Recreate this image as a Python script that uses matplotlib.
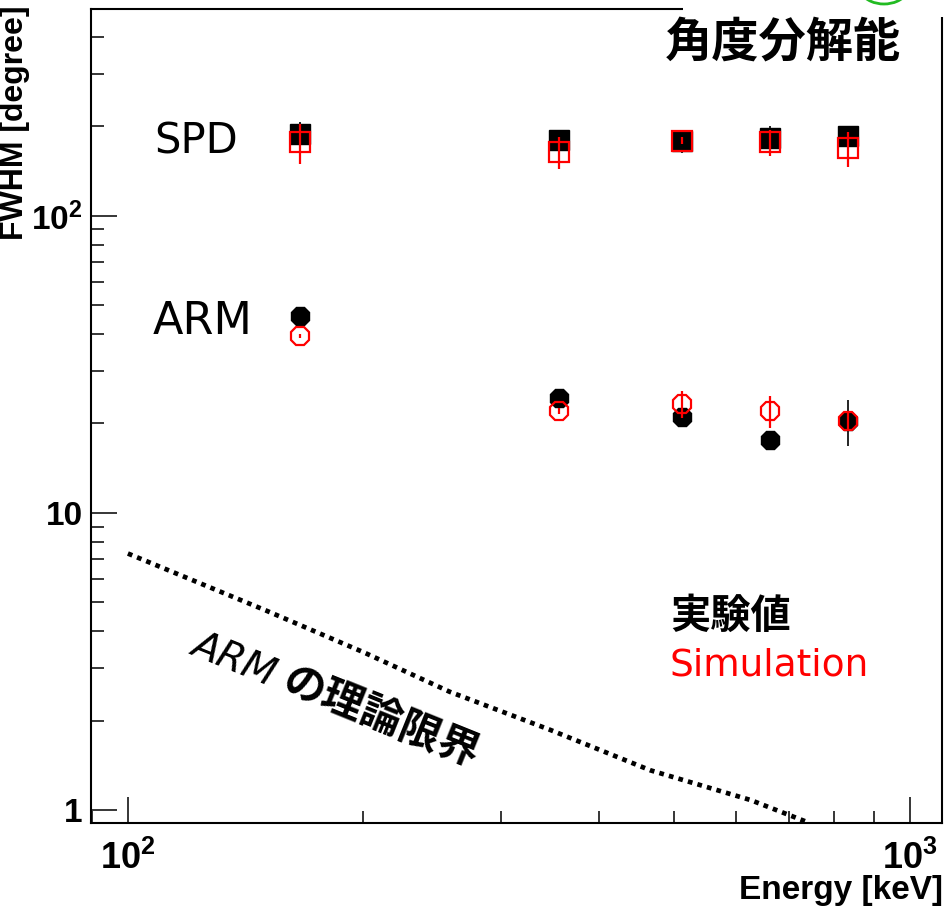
import matplotlib
matplotlib.use("Agg")
import matplotlib.pyplot as plt
from matplotlib import ticker
from matplotlib.patches import Rectangle, Arc

plt.rcParams['font.family'] = ['Liberation Sans', 'Noto Sans CJK JP', 'DejaVu Sans']
plt.rcParams['mathtext.fontset'] = 'custom'
plt.rcParams['mathtext.rm'] = 'Liberation Sans:bold'
plt.rcParams['mathtext.it'] = 'Liberation Sans:bold'
plt.rcParams['mathtext.bf'] = 'Liberation Sans:bold'

# gamma-ray line energies [keV]
energy = [166, 356, 511, 662, 835]

# SPD (squares)
spd_exp = [189, 180, 179, 183, 185]
spd_exp_err = [18, 5, 16, 17, 16]
spd_sim = [177, 164, 179, 177, 169]
spd_sim_err = [27, 20, 5, 18, 23]

# ARM (circles)
arm_exp = [46, 24.4, 21.0, 17.6, 20.4]
arm_exp_err = [1.0, 0.8, 1.0, 0.6, 3.6]
arm_sim = [39.4, 22.0, 23.3, 22.0, 20.4]
arm_sim_err = [0.5, 0.5, 2.5, 2.7, 1.5]

# theoretical ARM limit (dotted line)
lim_energy = [100, 150, 200, 258, 347, 466, 626, 740]
lim_arm = [7.3, 4.7, 3.4, 2.5, 1.86, 1.36, 1.08, 0.91]

W, H = 951, 908
fig = plt.figure(figsize=(W / 100, H / 100), dpi=100)
ax = fig.add_axes([91 / W, 1 - 823 / H, (942 - 91) / W, (823 - 9) / H])

def px(x, y):
    # pixel position (from top-left) -> figure fraction
    return x / W, 1 - y / H

# dotted theory line
ax.plot(lim_energy, lim_arm, color='black', linestyle=(0, (1, 1.1)), linewidth=3.4)

# experiment (black, filled)
ax.errorbar(energy, spd_exp, yerr=spd_exp_err, fmt='s', color='black',
            markersize=14, elinewidth=1.2, capsize=0, zorder=3)
ax.errorbar(energy, arm_exp, yerr=arm_exp_err, fmt='8', color='black',
            markersize=14, elinewidth=1.2, capsize=0, zorder=3)

# simulation (red, open)
ax.errorbar(energy, spd_sim, yerr=spd_sim_err, fmt='s', color='red',
            markerfacecolor='none', markeredgewidth=1.6, markersize=14,
            elinewidth=1.6, capsize=0, zorder=4)
ax.errorbar(energy, arm_sim, yerr=arm_sim_err, fmt='8', color='red',
            markerfacecolor='none', markeredgewidth=1.6, markersize=14,
            elinewidth=1.6, capsize=0, zorder=4)

ax.set_xscale('log')
ax.set_yscale('log')
ax.set_xlim(89.7, 1100)
ax.set_ylim(0.904, 497)

ax.set_xticks([100, 1000])
ax.set_xticklabels([r'$10^{2}$', r'$10^{3}$'])
ax.set_yticks([1, 10, 100])
ax.set_yticklabels(['1', '10', r'$10^{2}$'])
for a in (ax.xaxis, ax.yaxis):
    a.set_minor_locator(ticker.LogLocator(base=10, subs=range(2, 10), numticks=20))
    a.set_minor_formatter(ticker.NullFormatter())

ax.tick_params(which='major', direction='in', length=19, width=1.1,
               top=False, right=False)
ax.tick_params(which='minor', direction='in', length=9, width=1.1,
               top=False, right=False)
ax.tick_params(axis='x', which='major', pad=13, labelsize=26)
ax.tick_params(axis='y', which='major', pad=6, labelsize=24)
for lab in ax.get_xticklabels() + ax.get_yticklabels():
    lab.set_fontweight('bold')
for s in ax.spines.values():
    s.set_linewidth(1.5)

# axis titles (ROOT style, at the ends)
fig.text(*px(943, 890), 'Energy [keV]', ha='right', va='center',
         fontsize=24, fontweight='bold')
fig.text(*px(15, 5), 'FWHM [degree]', ha='center', va='top', rotation=90,
         fontsize=23, fontweight='bold')

# annotations
fig.text(*px(196, 142), 'SPD', ha='center', va='center', fontsize=30,
         family=['DejaVu Sans'])
fig.text(*px(203, 322), 'ARM', ha='center', va='center', fontsize=32,
         family=['DejaVu Sans'])
fig.text(*px(731, 616), '実験値', ha='center', va='center', fontsize=29,
         fontweight='bold', family=['Noto Sans CJK JP'])
fig.text(*px(670, 666), 'Simulation', ha='left', va='center', fontsize=27,
         color='red', family=['DejaVu Sans'])
fig.text(*px(234, 659), 'ARM', ha='center', va='center', fontsize=28,
         rotation=-22, rotation_mode='anchor', style='italic',
         family=['DejaVu Sans'])
fig.text(*px(381, 718), 'の理論限界', ha='center', va='center', fontsize=30,
         rotation=-22, rotation_mode='anchor', fontweight='bold',
         family=['Noto Sans CJK JP'])

# pasted title box covering the top-right corner of the frame
fig.patches.append(Rectangle(px(683, 17), (W - 683) / W, 17 / H,
                             transform=fig.transFigure, facecolor='white',
                             edgecolor='none', zorder=10))
fig.text(*px(783, 43), '角度分解能', ha='center', va='center', fontsize=34,
         fontweight='bold', family=['Noto Sans CJK JP'], zorder=11)
fig.patches.append(Arc(px(884, -14), 50 / W, 36 / H, theta1=200, theta2=340,
                       transform=fig.transFigure, color='#22bb22',
                       linewidth=2, zorder=11))
ax.annotate('', xy=px(689, 14), xytext=px(707, -2), xycoords='figure fraction',
            textcoords='figure fraction', annotation_clip=False,
            arrowprops=dict(arrowstyle='-|>', color='#2040ff', lw=1.5,
                            mutation_scale=10))

fig.savefig('out.png', dpi=100)
